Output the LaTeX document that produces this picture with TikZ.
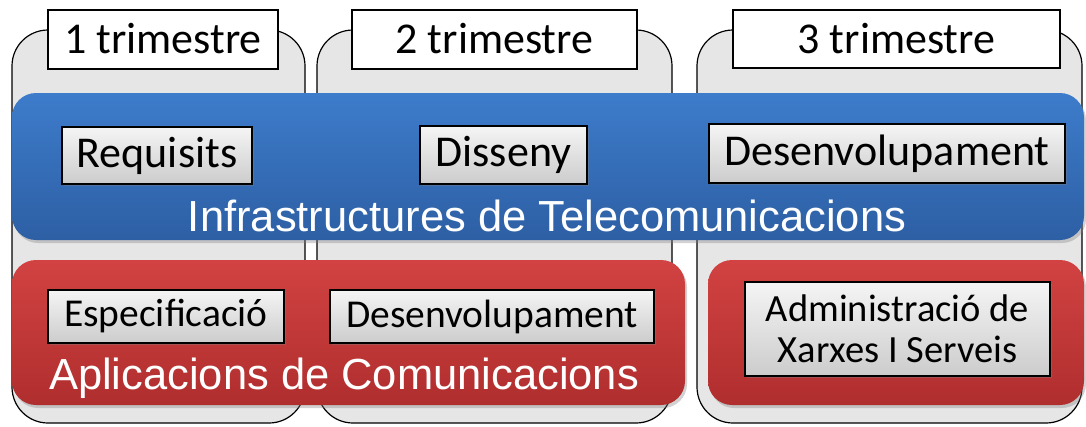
\documentclass[tikz,border=0pt]{standalone}
\usepackage{fontspec}
\newfontfamily\boxfont{Carlito}
\newfontfamily\bandfont{Liberation Sans}
\usetikzlibrary{shadows}

\definecolor{panelgray}{HTML}{E6E6E6}
\definecolor{bandblueT}{HTML}{3D7CCB}
\definecolor{bandblueB}{HTML}{2D5FA4}
\definecolor{bandredT}{HTML}{D24242}
\definecolor{bandredB}{HTML}{B02E2E}

\tikzset{
    trimbox/.style  = {draw = black, line width = 2pt, fill = white, inner sep = 0pt,
                       font = \boxfont\fontsize{44}{48}\selectfont},
    taskbox/.style  = {draw = black, line width = 1.6pt, top color = white!96!black,
                       bottom color = white!80!black, inner sep = 0pt, align = center,
                       drop shadow = {shadow xshift = 1.5pt, shadow yshift = -1.5pt, opacity = 0.4}},
    bandtext/.style = {text = white, font = \bandfont\fontsize{43.5}{46}\selectfont}
}

\begin{document}
\begin{tikzpicture}[x = 1pt, y = -1pt]

    \def\width  {1086}
    \def\height {426}

    \useasboundingbox [fill = white] (0, 0) rectangle (\width, \height);

    % quarters
    \path [draw = black, line width = 1.2pt, fill = panelgray, rounded corners = 36pt]
        (12, 30) rectangle (305, 423);
    \path [draw = black, line width = 1.2pt, fill = panelgray, rounded corners = 36pt]
        (317, 30) rectangle (672, 423);
    \path [draw = black, line width = 1.2pt, fill = panelgray, rounded corners = 36pt]
        (697, 30) rectangle (1082, 423);

    % quarter headers
    \node [trimbox, minimum width = 230, minimum height = 59] (q1) at (163, 39) {1 trimestre};
    \node [trimbox, minimum width = 285, minimum height = 59] (q2) at (494.5, 39) {2 trimestre};
    \node [trimbox, minimum width = 327, minimum height = 58] (q3) at (896.5, 39) {3 trimestre};

    % blue band
    \path [top color = bandblueT, bottom color = bandblueB, rounded corners = 24pt,
           drop shadow = {shadow xshift = 2pt, shadow yshift = -3pt, opacity = 0.35}]
        (12, 93) rectangle (1084, 240);
    \node [bandtext] (infra) at (547, 216) {Infrastructures de Telecomunicacions};

    % red bands
    \path [top color = bandredT, bottom color = bandredB, rounded corners = 24pt,
           drop shadow = {shadow xshift = 2pt, shadow yshift = -3pt, opacity = 0.35}]
        (12, 260) rectangle (685, 405);
    \path [top color = bandredT, bottom color = bandredB, rounded corners = 24pt,
           drop shadow = {shadow xshift = 2pt, shadow yshift = -3pt, opacity = 0.35}]
        (708, 260) rectangle (1084, 405);
    \node [bandtext] (apps) at (344, 378) {Aplicacions de Comunicacions};

    % tasks, telecom
    \node [taskbox, minimum width = 190, minimum height = 57, font = \boxfont\fontsize{44}{48}\selectfont]
        (req) at (157, 155.5) {Requisits};
    \node [taskbox, minimum width = 167, minimum height = 58, font = \boxfont\fontsize{44}{48}\selectfont]
        (dis) at (503.5, 155) {Disseny};
    \node [taskbox, minimum width = 356, minimum height = 59, font = \boxfont\fontsize{44}{48}\selectfont]
        (dev1) at (887, 153.5) {Desenvolupament};

    % tasks, applications
    \node [taskbox, minimum width = 236, minimum height = 53, font = \boxfont\fontsize{39.5}{42}\selectfont]
        (spec) at (166, 316.5) {Especificació};
    \node [taskbox, minimum width = 324, minimum height = 53, font = \boxfont\fontsize{39.5}{42}\selectfont]
        (dev2) at (492, 316.5) {Desenvolupament};
    \node [taskbox, minimum width = 305, minimum height = 94, font = \boxfont\fontsize{38.5}{41}\selectfont]
        (adm) at (897.5, 329) {Administració de\\Xarxes I Serveis};

\end{tikzpicture}
\end{document}
